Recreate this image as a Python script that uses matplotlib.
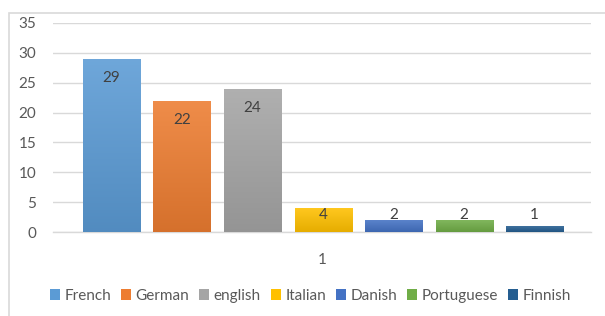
import matplotlib
matplotlib.use("Agg")
import matplotlib.pyplot as plt
import numpy as np
from matplotlib.colors import LinearSegmentedColormap, to_rgb
from matplotlib.patches import Rectangle

languages = ["French", "German", "english", "Italian", "Danish", "Portuguese", "Finnish"]
values = [29, 22, 24, 4, 2, 2, 1]
colors = ["#5B9BD5", "#ED7D31", "#A5A5A5", "#FFC000", "#4472C4", "#70AD47", "#255E91"]
category_label = "1"
yticks = [0, 5, 10, 15, 20, 25, 30, 35]

plt.rcParams['font.family'] = ['Lato', 'DejaVu Sans']

fig = plt.figure(figsize=(6.05, 3.16), dpi=100)
fig.patch.set_facecolor("white")

# outer frame
fig.add_artist(Rectangle((9/605, -0.1), 1.2, (316-13)/316 + 0.1, transform=fig.transFigure,
                         fill=False, edgecolor="#D9D9D9", linewidth=1.2))

ax = fig.add_axes([53/605, (316-232)/316, (591-53)/605, (232-23)/316])
ax.set_ylim(0, 35)
ax.set_xlim(-0.83, 6.80)
ax.set_yticks(yticks)
ax.set_xticks([])
for s in ["top", "right", "left"]:
    ax.spines[s].set_visible(False)
ax.spines["bottom"].set_color("#D9D9D9")
ax.spines["bottom"].set_linewidth(1.0)
ax.grid(axis="y", color="#D9D9D9", linewidth=1.0)
ax.set_axisbelow(True)
ax.tick_params(axis="y", length=0, pad=12, labelsize=11, labelcolor="#595959")

x = np.arange(len(values))
width = 0.81
bars = ax.bar(x, values, width=width, color=colors, label=languages, zorder=2)

grad = np.linspace(0, 1, 256).reshape(-1, 1)
for b, c in zip(bars, colors):
    r, g, bl = to_rgb(c)
    light = tuple(min(1, v + (1 - v) * 0.12) for v in (r, g, bl))
    dark = tuple(v * 0.9 for v in (r, g, bl))
    cmap = LinearSegmentedColormap.from_list("g", [dark, light])
    x0, y0 = b.get_x(), b.get_y()
    w, h = b.get_width(), b.get_height()
    im = ax.imshow(grad, extent=(x0, x0 + w, y0, y0 + h), origin="lower",
                   cmap=cmap, aspect="auto", zorder=3)
    im.set_clip_path(b)

ax.set_xlim(-0.83, 6.80)
ax.set_ylim(0, 35)

for xi, v in zip(x, values):
    ax.text(xi, max(v - 3.2, 2.85), str(v), ha="center", va="center",
            fontsize=11, color="#404040", zorder=4)

ax.text(0.5, -0.135, category_label, transform=ax.transAxes, ha="center", va="center",
        fontsize=11, color="#595959")

leg = fig.legend(handles=bars, labels=languages, loc="center", bbox_to_anchor=(0.513, 0.064),
                 ncol=7, frameon=False, handlelength=0.65, handleheight=0.65, handletextpad=0.3,
                 columnspacing=0.65, fontsize=11)
for t in leg.get_texts():
    t.set_color("#595959")

fig.savefig("out.png", dpi=100)
